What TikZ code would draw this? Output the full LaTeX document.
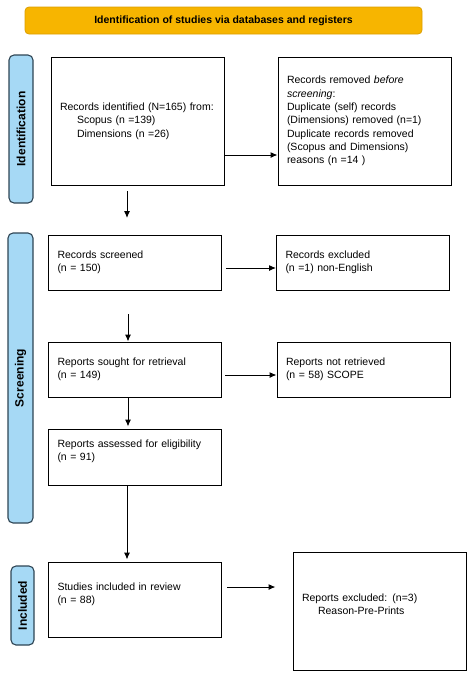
\documentclass[tikz,border=0pt]{standalone}
\usepackage{fontspec}
\setmainfont{Liberation Sans}
\usepackage{tikz}
\usetikzlibrary{arrows,arrows.meta}
\definecolor{orangehead}{rgb}{0.97, 0.71, 0.0}
\definecolor{orangeline}{rgb}{0.86, 0.62, 0.0}
\definecolor{bleupale}{rgb}{0.65, 0.85, 0.96}
\definecolor{bleufonce}{rgb}{0.18, 0.27, 0.33}

\begin{document}
\begin{tikzpicture}[x=1pt, y=-1pt, ->, >={Latex[length=7pt, width=6pt]}, line width=1pt] % one unit = one pixel
  \tikzstyle{boite}=[rectangle, draw=black, text=black, text width=155pt, inner xsep=9pt, align=left, font=\fontsize{10.5}{13.3}\selectfont]
  \tikzstyle{phase}=[rectangle, rounded corners=5pt, draw=bleufonce, fill=bleupale, line width=1.1pt, rotate=90, inner sep=0pt, font=\bfseries\fontsize{12}{14}\selectfont]
  \tikzstyle{entete}=[rectangle, rounded corners=4pt, draw=orangeline, fill=orangehead, line width=0.8pt, font=\bfseries\fontsize{10.5}{12}\selectfont]

	\useasboundingbox (0,0) rectangle (474,678);

	\node[entete, minimum width=397pt, minimum height=27pt] (titre) at (223.5,20.5) {Identification of studies via databases and registers};

	\node[phase, minimum width=148pt, minimum height=24pt] (P1) at (21,129) {Identification};
	\node[phase, minimum width=290pt, minimum height=25pt] (P2) at (20.5,378) {Screening};
	\node[phase, minimum width=79pt, minimum height=23pt]  (P3) at (22.5,605.5) {Included};

	\node[boite, minimum height=128pt] (ident) at (137.5,121) {Records identified (N=165) from:\\\hspace*{17pt}Scopus (n =139)\\\hspace*{17pt}Dimensions (n =26)};
	\node[boite, minimum height=128pt] (retire) at (364.5,121) {Records removed \textit{before}\\\textit{screening}:\\Duplicate (self) records\\(Dimensions) removed (n=1)\\Duplicate records removed\\(Scopus and Dimensions)\\reasons (n =14 )};
	\node[boite, minimum height=55pt] (tri) at (135,262.5) {Records screened\\(n = 150)};
	\node[boite, minimum height=55pt] (exclu) at (363,262.5) {Records excluded\\(n =1) non-English};
	\node[boite, minimum height=55pt] (recherche) at (135,369.5) {Reports sought for retrieval\\(n = 149)};
	\node[boite, minimum height=55pt] (nonrecup) at (363.5,369.5) {Reports not retrieved\\(n = 58) SCOPE};
	\node[boite, minimum height=56pt] (eligible) at (135,457) {Reports assessed for eligibility\\(n = 91)\\\mbox{}};
	\node[boite, minimum height=75pt] (inclus) at (135,599.5) {Studies included in review\\(n = 88)\\\mbox{}};
	\node[boite, minimum height=118pt] (rejet) at (379.5,611) {Reports excluded: (n=3)\\\hspace*{16pt}Reason-Pre-Prints\\\mbox{}};

	\coordinate (d1) at (127,191);
	\coordinate (d2) at (127,218);
	\coordinate (d3) at (128,314);

	\path
		([yshift=-34pt]ident.east) edge ([yshift=-34pt]retire.west)
		([yshift=-5.5pt]tri.east) edge [shorten <=4pt] ([yshift=-5.5pt]exclu.west)
		([yshift=-5.5pt]recherche.east) edge [shorten <=3pt] ([yshift=-5.5pt]nonrecup.west)
		([yshift=12.5pt]inclus.east) edge [shorten <=5pt, shorten >=17pt] ([yshift=24pt]rejet.west)
		(d1) edge (d2)
		(d3) edge (d3 |- recherche.north)
		([xshift=-7pt]recherche.south) edge [shorten >=2pt] ([xshift=-7pt]eligible.north)
		([xshift=-8pt]eligible.south) edge [shorten >=2pt] ([xshift=-8pt]inclus.north)
		;

\end{tikzpicture}
\end{document}
